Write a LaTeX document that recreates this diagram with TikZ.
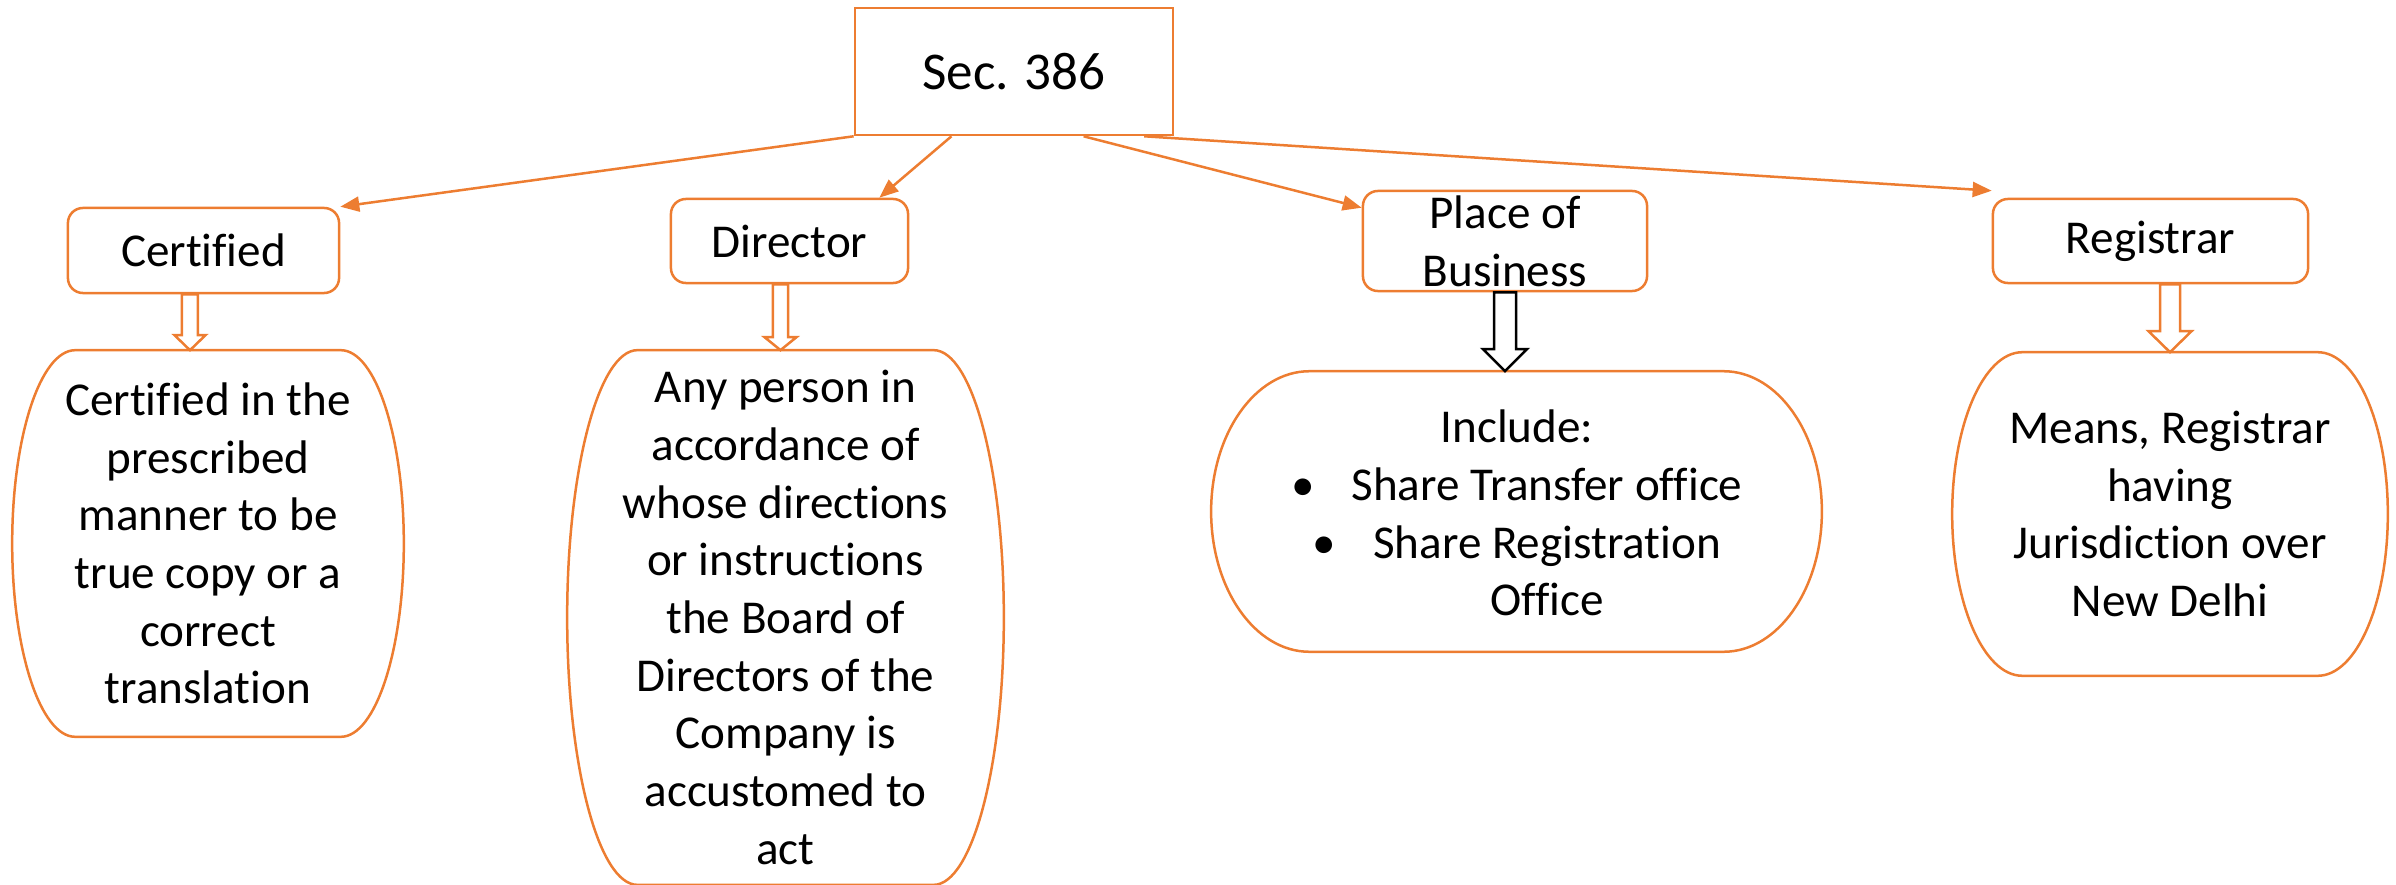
\documentclass[tikz,border=0pt]{standalone}
\usepackage{fontspec}
\setmainfont{Carlito}[Ligatures=NoCommon]
\usepackage{tikz}
\usetikzlibrary{arrows.meta,positioning,calc}
\definecolor{orangec}{RGB}{237,125,49}

\newcommand\termline[1]{%
  \draw[draw=orangec,line width=0.025cm] let \p1=(#1.north west), \p2=(#1.south east),
    \n1={0.161*(\x2-\x1)}, \n2={0.5*(\y1-\y2)} in
    (\x1+\n1,\y1) -- (\x2-\n1,\y1)
    arc[start angle=90,end angle=-90,x radius=\n1,y radius=\n2]
    -- (\x1+\n1,\y2)
    arc[start angle=270,end angle=90,x radius=\n1,y radius=\n2] -- cycle;}

\newcommand\hollowdown[7][orangec]{%
  \draw[draw=#1,line width=0.025cm] let \p1=($(#2.south)+(#4,0)$), \p2=(#3.north) in
    (\x1-#5,\y1) -- (\x1-#5,\y2+#7) -- (\x1-#6,\y2+#7) -- (\x1,\y2)
    -- (\x1+#6,\y2+#7) -- (\x1+#5,\y2+#7) -- (\x1+#5,\y1) -- cycle;}

\begin{document}
\begin{tikzpicture}[x=0.01cm,y=-0.01cm,>={Triangle[length=0.19cm,width=0.15cm]},
    secbox/.style={draw=orangec,line width=0.025cm,minimum width=3.18cm,minimum height=1.27cm,
      font=\fontsize{15.1}{18}\selectfont},
    headbox/.style={draw=orangec,line width=0.025cm,rounded corners=0.15cm,inner sep=0pt,
      align=center,font=\fontsize{13.4}{16.4}\selectfont},
    desc/.style={inner sep=0pt,align=center,font=\fontsize{13.4}{16.4}\selectfont},
    link/.style={orangec,line width=0.025cm,->}]
  \useasboundingbox (0,0) rectangle (2396,885);

  \node[secbox] (sec) at (1014,71.5) {Sec. 386};

  \node[headbox,minimum width=2.71cm,minimum height=0.85cm] (certbox) at (203.5,250.5) {Certified};
  \node[headbox,minimum width=2.37cm,minimum height=0.84cm] (dirbox) at (789.5,241) {Director};
  \node[headbox,minimum width=2.84cm,minimum height=1cm] (placebox) at (1505,241) {Place of\\Business};
  \node[headbox,minimum width=3.15cm,minimum height=0.84cm] (regbox) at (2150.5,241) {Registrar};

  \node[desc,minimum width=3.9cm,minimum height=3.85cm] (certdesc) at (208,543.5)
    {Certified in the\\prescribed\\manner to be\\true copy or a\\correct\\translation};
  \node[desc,minimum width=4.35cm,minimum height=5.33cm] (dirdesc) at (785.5,617.5)
    {Any person in\\accordance of\\whose directions\\or instructions\\the Board of\\Directors of the\\Company is\\accustomed to\\act};
  \node[desc,minimum width=6.09cm,minimum height=2.79cm] (placedesc) at (1516.5,511.5) {};
  \node[desc] (placetext) at (1547,513)
    {Include:\hspace*{0.6cm}\\
     \llap{\textbullet\hspace{0.37cm}}Share Transfer office\\
     \llap{\textbullet\hspace{0.37cm}}Share Registration\\
     Office};
  \node[desc,minimum width=4.34cm,minimum height=3.22cm] (regdesc) at (2170,514)
    {Means, Registrar\\having\\Jurisdiction over\\New Delhi};

  \termline{certdesc}
  \termline{dirdesc}
  \termline{placedesc}
  \termline{regdesc}

  \draw[link] (sec.south west) -- (certbox.north east);
  \draw[link] ($(sec.south west)!0.305!(sec.south east)$) -- ($(dirbox.north east)+(-30,0)$);
  \draw[link] ($(sec.south west)!0.717!(sec.south east)$) -- ($(placebox.north west)+(0,18)$);
  \draw[link] ($(sec.south west)!0.906!(sec.south east)$) -- ($(regbox.north west)+(0,-7)$);

  \hollowdown{certbox}{certdesc}{-0.135cm}{0.08cm}{0.155cm}{0.15cm}
  \hollowdown{dirbox}{dirdesc}{-0.09cm}{0.075cm}{0.16cm}{0.13cm}
  \hollowdown[black]{placebox}{placedesc}{0cm}{0.11cm}{0.22cm}{0.22cm}
  \hollowdown{regbox}{regdesc}{0.195cm}{0.1cm}{0.215cm}{0.21cm}
\end{tikzpicture}
\end{document}
